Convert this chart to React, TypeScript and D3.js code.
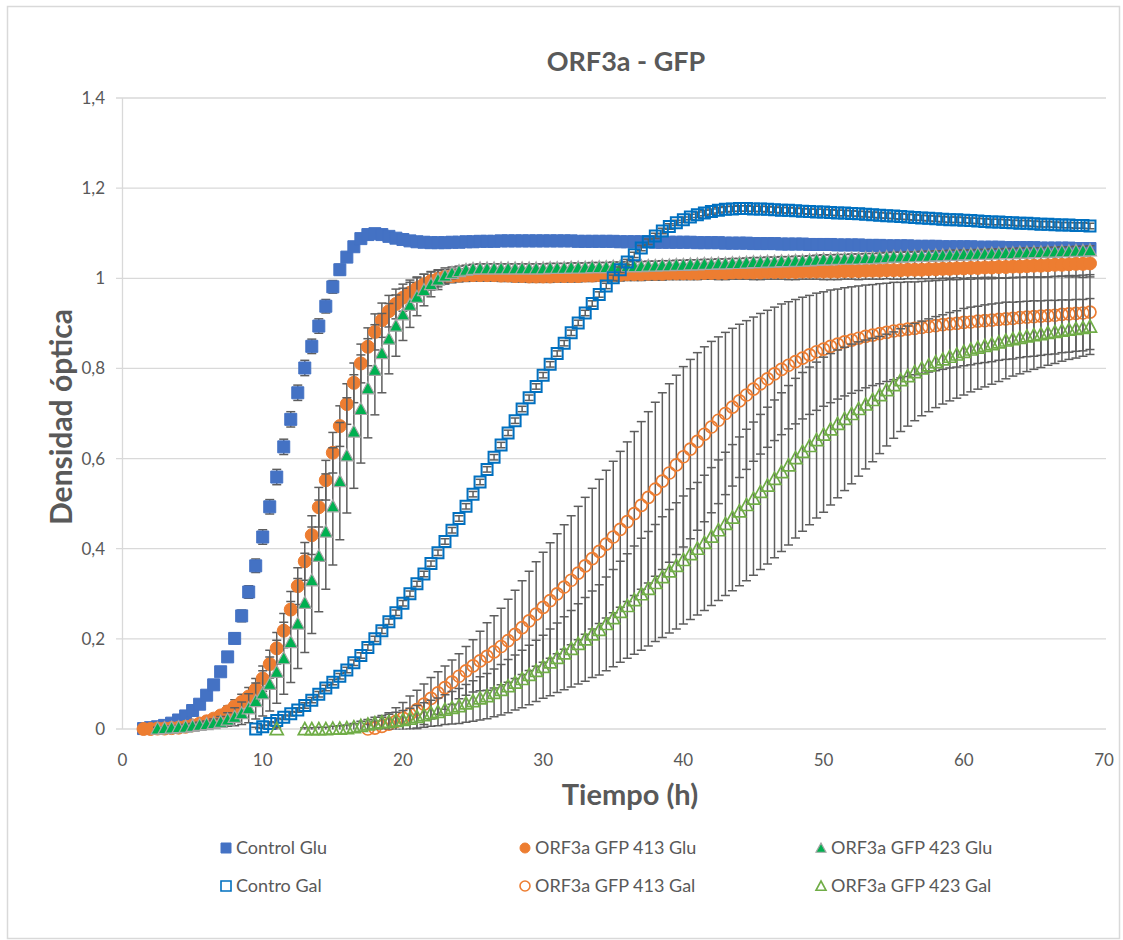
import React from 'react';
import * as d3 from 'd3';

// Sampling times (h)
const TIMES = [
  1.5, 2, 2.5, 3, 3.5, 4, 4.5, 5, 5.5, 6, 6.5, 7, 7.5, 8, 8.5, 9, 9.5,
  10, 10.5, 11, 11.5, 12, 12.5, 13, 13.5, 14, 14.5, 15, 15.5, 16, 16.5, 17, 17.5, 18, 18.5, 19, 19.5,
  20, 20.5, 21, 21.5, 22, 22.5, 23, 23.5, 24, 24.5, 25, 25.5, 26, 26.5, 27, 27.5, 28, 28.5, 29, 29.5,
  30, 30.5, 31, 31.5, 32, 32.5, 33, 33.5, 34, 34.5, 35, 35.5, 36, 36.5, 37, 37.5, 38, 38.5, 39, 39.5,
  40, 40.5, 41, 41.5, 42, 42.5, 43, 43.5, 44, 44.5, 45, 45.5, 46, 46.5, 47, 47.5, 48, 48.5, 49, 49.5,
  50, 50.5, 51, 51.5, 52, 52.5, 53, 53.5, 54, 54.5, 55, 55.5, 56, 56.5, 57, 57.5, 58, 58.5, 59, 59.5,
  60, 60.5, 61, 61.5, 62, 62.5, 63, 63.5, 64, 64.5, 65, 65.5, 66, 66.5, 67, 67.5, 68, 68.5, 69,
];

const N = null;

const CONTROL_GLU = [
  0.001, 0.003, 0.005, 0.008, 0.013, 0.020, 0.029, 0.041, 0.055, 0.075, 0.098, 0.127, 0.160, 0.201, 0.251, 0.304, 0.362,
  0.426, 0.493, 0.559, 0.626, 0.687, 0.746, 0.801, 0.849, 0.894, 0.938, 0.981, 1.019, 1.047, 1.070, 1.088, 1.097, 1.099, 1.097, 1.093, 1.089,
  1.086, 1.083, 1.081, 1.080, 1.079, 1.079, 1.079, 1.080, 1.080, 1.081, 1.081, 1.082, 1.082, 1.082, 1.083, 1.083, 1.083, 1.083, 1.083, 1.083,
  1.083, 1.083, 1.083, 1.083, 1.083, 1.082, 1.082, 1.082, 1.082, 1.082, 1.082, 1.081, 1.081, 1.081, 1.081, 1.081, 1.080, 1.080, 1.080, 1.080,
  1.080, 1.080, 1.079, 1.079, 1.079, 1.079, 1.078, 1.078, 1.078, 1.078, 1.077, 1.077, 1.077, 1.077, 1.076, 1.076, 1.076, 1.076, 1.075, 1.075,
  1.075, 1.075, 1.074, 1.074, 1.074, 1.074, 1.073, 1.073, 1.073, 1.072, 1.072, 1.072, 1.072, 1.071, 1.071, 1.071, 1.071, 1.070, 1.070, 1.070,
  1.070, 1.070, 1.069, 1.069, 1.069, 1.069, 1.068, 1.068, 1.068, 1.068, 1.068, 1.067, 1.067, 1.067, 1.067, 1.067, 1.066, 1.066, 1.066,
];
const CONTROL_GLU_ERR = [
  0.002, 0.002, 0.003, 0.003, 0.004, 0.004, 0.005, 0.006, 0.007, 0.008, 0.009, 0.010, 0.011, 0.012, 0.013, 0.014, 0.015,
  0.016, 0.016, 0.017, 0.017, 0.017, 0.017, 0.017, 0.016, 0.016, 0.015, 0.014, 0.012, 0.010, 0.009, 0.008, 0.007, 0.006, 0.006, 0.006, 0.005,
  0.005, 0.005, 0.005, 0.005, 0.005, 0.005, 0.005, 0.005, 0.005, 0.005, 0.005, 0.005, 0.005, 0.005, 0.005, 0.005, 0.005, 0.005, 0.005, 0.005,
  0.005, 0.005, 0.005, 0.005, 0.005, 0.005, 0.005, 0.005, 0.005, 0.005, 0.005, 0.005, 0.005, 0.005, 0.005, 0.005, 0.005, 0.005, 0.005, 0.005,
  0.005, 0.005, 0.005, 0.005, 0.005, 0.005, 0.005, 0.005, 0.005, 0.005, 0.005, 0.005, 0.005, 0.005, 0.005, 0.005, 0.005, 0.005, 0.005, 0.005,
  0.005, 0.005, 0.005, 0.005, 0.005, 0.005, 0.005, 0.005, 0.005, 0.005, 0.005, 0.005, 0.005, 0.005, 0.005, 0.005, 0.005, 0.005, 0.005, 0.005,
  0.005, 0.005, 0.005, 0.005, 0.005, 0.005, 0.005, 0.005, 0.005, 0.005, 0.005, 0.005, 0.005, 0.005, 0.005, 0.005, 0.005, 0.005, 0.005,
];

const ORF413_GLU = [
  0.000, 0.000, 0.001, 0.001, 0.002, 0.003, 0.005, 0.008, 0.012, 0.017, 0.023, 0.030, 0.039, 0.050, 0.060, 0.072, 0.088,
  0.112, 0.144, 0.179, 0.218, 0.265, 0.317, 0.372, 0.430, 0.492, 0.552, 0.613, 0.672, 0.721, 0.768, 0.811, 0.848, 0.881, 0.907, 0.927, 0.943,
  0.957, 0.968, 0.978, 0.987, 0.994, 0.999, 1.003, 1.005, 1.006, 1.007, 1.007, 1.007, 1.007, 1.007, 1.006, 1.006, 1.005, 1.005, 1.004, 1.004,
  1.004, 1.004, 1.005, 1.005, 1.005, 1.005, 1.006, 1.006, 1.007, 1.007, 1.008, 1.008, 1.009, 1.009, 1.009, 1.010, 1.010, 1.010, 1.011, 1.011,
  1.011, 1.011, 1.011, 1.012, 1.012, 1.012, 1.012, 1.013, 1.013, 1.013, 1.013, 1.013, 1.014, 1.014, 1.014, 1.014, 1.014, 1.015, 1.015, 1.015,
  1.015, 1.015, 1.015, 1.016, 1.016, 1.016, 1.017, 1.017, 1.017, 1.018, 1.018, 1.018, 1.019, 1.019, 1.019, 1.020, 1.020, 1.021, 1.021, 1.022,
  1.022, 1.023, 1.023, 1.024, 1.024, 1.025, 1.025, 1.026, 1.026, 1.027, 1.028, 1.028, 1.029, 1.030, 1.030, 1.031, 1.032, 1.032, 1.033,
];
const ORF413_GLU_ERR = [
  0.003, 0.003, 0.003, 0.003, 0.003, 0.003, 0.004, 0.004, 0.005, 0.006, 0.008, 0.010, 0.012, 0.015, 0.017, 0.020, 0.024,
  0.028, 0.031, 0.035, 0.038, 0.040, 0.041, 0.042, 0.043, 0.044, 0.044, 0.045, 0.045, 0.045, 0.044, 0.043, 0.042, 0.040, 0.038, 0.035, 0.033,
  0.030, 0.028, 0.025, 0.022, 0.020, 0.018, 0.016, 0.015, 0.014, 0.014, 0.013, 0.013, 0.013, 0.013, 0.013, 0.013, 0.013, 0.013, 0.013, 0.013,
  0.013, 0.013, 0.013, 0.013, 0.013, 0.013, 0.013, 0.013, 0.013, 0.013, 0.014, 0.014, 0.014, 0.014, 0.014, 0.014, 0.014, 0.014, 0.014, 0.014,
  0.014, 0.014, 0.014, 0.014, 0.014, 0.015, 0.015, 0.015, 0.015, 0.015, 0.016, 0.016, 0.016, 0.016, 0.016, 0.017, 0.017, 0.017, 0.017, 0.017,
  0.018, 0.018, 0.018, 0.018, 0.018, 0.019, 0.019, 0.019, 0.019, 0.019, 0.020, 0.020, 0.020, 0.020, 0.020, 0.021, 0.021, 0.021, 0.021, 0.021,
  0.022, 0.022, 0.022, 0.022, 0.022, 0.024, 0.024, 0.024, 0.024, 0.024, 0.026, 0.026, 0.026, 0.026, 0.026, 0.028, 0.029, 0.030, 0.030,
];

const ORF423_GLU = [
  N, N, 0.001, 0.002, 0.003, 0.004, 0.005, 0.007, 0.009, 0.011, 0.013, 0.016, 0.021, 0.027, 0.035, 0.046, 0.062,
  0.079, 0.100, 0.127, 0.157, 0.193, 0.234, 0.280, 0.330, 0.384, 0.438, 0.494, 0.550, 0.607, 0.660, 0.710, 0.756, 0.797, 0.834, 0.866, 0.895,
  0.920, 0.941, 0.959, 0.974, 0.987, 0.997, 1.006, 1.012, 1.016, 1.019, 1.021, 1.022, 1.022, 1.022, 1.022, 1.022, 1.022, 1.022, 1.022, 1.022,
  1.022, 1.023, 1.023, 1.023, 1.024, 1.024, 1.024, 1.025, 1.025, 1.025, 1.026, 1.026, 1.027, 1.027, 1.027, 1.028, 1.028, 1.029, 1.029, 1.030,
  1.030, 1.031, 1.031, 1.032, 1.032, 1.033, 1.033, 1.034, 1.034, 1.035, 1.036, 1.036, 1.037, 1.037, 1.038, 1.038, 1.039, 1.039, 1.040, 1.041,
  1.042, 1.042, 1.043, 1.043, 1.044, 1.044, 1.045, 1.045, 1.046, 1.047, 1.048, 1.048, 1.049, 1.049, 1.050, 1.050, 1.051, 1.051, 1.052, 1.052,
  1.053, 1.053, 1.054, 1.054, 1.055, 1.055, 1.056, 1.056, 1.057, 1.057, 1.058, 1.058, 1.059, 1.059, 1.060, 1.060, 1.061, 1.061, 1.062,
];
const ORF423_GLU_ERR = [
  N, N, 0.003, 0.003, 0.004, 0.004, 0.005, 0.005, 0.006, 0.007, 0.009, 0.012, 0.015, 0.020, 0.025, 0.032, 0.040,
  0.050, 0.060, 0.070, 0.080, 0.090, 0.100, 0.110, 0.118, 0.124, 0.128, 0.130, 0.130, 0.128, 0.126, 0.120, 0.110, 0.100, 0.088, 0.078, 0.068,
  0.058, 0.050, 0.042, 0.035, 0.028, 0.022, 0.017, 0.013, 0.011, 0.010, 0.010, 0.010, 0.010, 0.010, 0.010, 0.010, 0.010, 0.010, 0.010, 0.010,
  0.010, 0.010, 0.010, 0.010, 0.010, 0.010, 0.010, 0.010, 0.010, 0.010, 0.010, 0.010, 0.010, 0.010, 0.010, 0.010, 0.010, 0.010, 0.010, 0.010,
  0.010, 0.010, 0.010, 0.010, 0.010, 0.010, 0.010, 0.010, 0.010, 0.010, 0.010, 0.010, 0.010, 0.010, 0.010, 0.010, 0.010, 0.010, 0.010, 0.010,
  0.010, 0.010, 0.010, 0.010, 0.010, 0.010, 0.010, 0.010, 0.010, 0.010, 0.010, 0.010, 0.010, 0.010, 0.010, 0.010, 0.010, 0.010, 0.010, 0.010,
  0.010, 0.010, 0.010, 0.010, 0.010, 0.010, 0.010, 0.010, 0.010, 0.010, 0.010, 0.010, 0.010, 0.010, 0.010, 0.010, 0.010, 0.010, 0.010,
];

const CONTROL_GAL = [
  N, N, N, N, N, N, N, N, N, N, N, N, N, N, N, N, 0.000,
  0.005, 0.012, 0.019, 0.026, 0.034, 0.042, 0.052, 0.064, 0.077, 0.091, 0.104, 0.117, 0.131, 0.147, 0.163, 0.181, 0.200, 0.218, 0.238, 0.258,
  0.279, 0.300, 0.322, 0.344, 0.367, 0.391, 0.416, 0.441, 0.467, 0.494, 0.521, 0.548, 0.576, 0.603, 0.630, 0.657, 0.684, 0.710, 0.735, 0.760,
  0.785, 0.809, 0.833, 0.856, 0.879, 0.901, 0.923, 0.944, 0.964, 0.983, 1.001, 1.019, 1.036, 1.052, 1.067, 1.081, 1.094, 1.105, 1.115, 1.123,
  1.130, 1.136, 1.141, 1.145, 1.148, 1.151, 1.153, 1.154, 1.155, 1.155, 1.154, 1.154, 1.153, 1.152, 1.151, 1.151, 1.150, 1.149, 1.148, 1.147,
  1.147, 1.146, 1.145, 1.145, 1.144, 1.143, 1.142, 1.141, 1.140, 1.139, 1.138, 1.137, 1.136, 1.135, 1.134, 1.133, 1.132, 1.131, 1.130, 1.130,
  1.129, 1.128, 1.127, 1.126, 1.125, 1.125, 1.124, 1.123, 1.122, 1.122, 1.121, 1.120, 1.120, 1.119, 1.118, 1.118, 1.117, 1.117, 1.116,
];
const CONTROL_GAL_ERR = [
  N, N, N, N, N, N, N, N, N, N, N, N, N, N, N, N, 0.004,
  0.004, 0.004, 0.005, 0.005, 0.005, 0.005, 0.006, 0.006, 0.006, 0.006, 0.006, 0.006, 0.006, 0.006, 0.006, 0.006, 0.006, 0.006, 0.006, 0.006,
  0.006, 0.006, 0.006, 0.006, 0.006, 0.006, 0.006, 0.006, 0.006, 0.006, 0.006, 0.006, 0.006, 0.006, 0.006, 0.006, 0.006, 0.006, 0.006, 0.006,
  0.006, 0.006, 0.006, 0.006, 0.006, 0.006, 0.006, 0.006, 0.006, 0.006, 0.006, 0.006, 0.006, 0.006, 0.006, 0.006, 0.006, 0.006, 0.006, 0.006,
  0.006, 0.006, 0.006, 0.006, 0.006, 0.006, 0.006, 0.006, 0.006, 0.006, 0.006, 0.006, 0.006, 0.006, 0.006, 0.006, 0.006, 0.006, 0.006, 0.006,
  0.006, 0.006, 0.006, 0.006, 0.006, 0.006, 0.006, 0.006, 0.006, 0.006, 0.006, 0.006, 0.006, 0.006, 0.006, 0.006, 0.006, 0.006, 0.006, 0.006,
  0.006, 0.006, 0.006, 0.006, 0.006, 0.006, 0.006, 0.006, 0.006, 0.006, 0.006, 0.006, 0.006, 0.006, 0.006, 0.006, 0.006, 0.006, 0.006,
];

const ORF413_GAL = [
  N, N, N, N, N, N, N, N, N, N, N, N, N, N, N, N, N,
  N, N, N, N, N, N, N, N, N, N, N, N, N, N, N, 0.000, 0.002, 0.006, 0.011, 0.017,
  0.024, 0.033, 0.043, 0.055, 0.068, 0.080, 0.092, 0.104, 0.117, 0.129, 0.140, 0.151, 0.161, 0.171, 0.183, 0.196, 0.210, 0.225, 0.240, 0.255,
  0.270, 0.285, 0.300, 0.315, 0.330, 0.346, 0.362, 0.378, 0.394, 0.410, 0.426, 0.443, 0.460, 0.478, 0.496, 0.514, 0.532, 0.550, 0.568, 0.586,
  0.604, 0.621, 0.638, 0.654, 0.670, 0.685, 0.700, 0.714, 0.728, 0.741, 0.754, 0.766, 0.777, 0.788, 0.798, 0.807, 0.815, 0.823, 0.830, 0.837,
  0.843, 0.849, 0.854, 0.859, 0.863, 0.867, 0.871, 0.874, 0.877, 0.880, 0.883, 0.885, 0.887, 0.889, 0.891, 0.893, 0.895, 0.897, 0.899, 0.900,
  0.902, 0.903, 0.905, 0.906, 0.907, 0.909, 0.910, 0.911, 0.913, 0.914, 0.915, 0.916, 0.917, 0.918, 0.920, 0.921, 0.922, 0.923, 0.925,
];
const ORF413_GAL_ERR = [
  N, N, N, N, N, N, N, N, N, N, N, N, N, N, N, N, N,
  N, N, N, N, N, N, N, N, N, N, N, N, N, N, N, 0.010, 0.015, 0.020, 0.025, 0.030,
  0.035, 0.040, 0.043, 0.045, 0.046, 0.047, 0.048, 0.049, 0.050, 0.054, 0.058, 0.066, 0.075, 0.080, 0.085, 0.092, 0.098, 0.104, 0.110, 0.116,
  0.122, 0.128, 0.133, 0.138, 0.143, 0.148, 0.152, 0.156, 0.160, 0.164, 0.168, 0.173, 0.177, 0.182, 0.186, 0.190, 0.193, 0.196, 0.198, 0.199,
  0.200, 0.199, 0.197, 0.194, 0.190, 0.185, 0.180, 0.175, 0.170, 0.165, 0.160, 0.156, 0.152, 0.148, 0.145, 0.141, 0.138, 0.135, 0.132, 0.130,
  0.127, 0.125, 0.122, 0.120, 0.118, 0.116, 0.114, 0.112, 0.111, 0.109, 0.108, 0.106, 0.105, 0.103, 0.102, 0.101, 0.100, 0.099, 0.098, 0.097,
  0.096, 0.095, 0.094, 0.093, 0.092, 0.091, 0.090, 0.090, 0.089, 0.088, 0.088, 0.087, 0.086, 0.086, 0.085, 0.085, 0.084, 0.084, 0.083,
];

const ORF423_GAL = [
  N, N, N, N, N, N, N, N, N, N, N, N, N, N, N, N, N,
  N, N, 0.000, N, N, N, 0.000, 0.000, 0.000, 0.000, 0.001, 0.001, 0.002, 0.004, 0.007, 0.010, 0.013, 0.015, 0.016, 0.018,
  0.020, 0.023, 0.027, 0.031, 0.035, 0.038, 0.043, 0.047, 0.051, 0.057, 0.062, 0.068, 0.073, 0.080, 0.087, 0.095, 0.103, 0.111, 0.120, 0.129,
  0.138, 0.148, 0.158, 0.168, 0.178, 0.189, 0.199, 0.210, 0.220, 0.233, 0.246, 0.260, 0.273, 0.286, 0.299, 0.311, 0.324, 0.337, 0.350, 0.362,
  0.375, 0.388, 0.400, 0.413, 0.427, 0.441, 0.455, 0.469, 0.483, 0.497, 0.511, 0.526, 0.540, 0.555, 0.570, 0.585, 0.601, 0.615, 0.628, 0.641,
  0.653, 0.665, 0.677, 0.688, 0.699, 0.710, 0.720, 0.730, 0.741, 0.752, 0.763, 0.774, 0.783, 0.792, 0.800, 0.807, 0.814, 0.820, 0.826, 0.831,
  0.837, 0.842, 0.846, 0.850, 0.854, 0.858, 0.862, 0.865, 0.868, 0.871, 0.874, 0.876, 0.879, 0.881, 0.884, 0.886, 0.888, 0.890, 0.893,
];
const ORF423_GAL_ERR = [
  N, N, N, N, N, N, N, N, N, N, N, N, N, N, N, N, N,
  N, N, 0.003, N, N, N, 0.003, 0.003, 0.004, 0.004, 0.005, 0.006, 0.007, 0.008, 0.010, 0.011, 0.013, 0.015, 0.017, 0.019,
  0.021, 0.023, 0.025, 0.027, 0.029, 0.031, 0.033, 0.036, 0.039, 0.042, 0.045, 0.048, 0.050, 0.053, 0.056, 0.059, 0.061, 0.064, 0.066, 0.068,
  0.070, 0.074, 0.077, 0.081, 0.085, 0.089, 0.093, 0.096, 0.100, 0.104, 0.108, 0.112, 0.116, 0.120, 0.124, 0.127, 0.130, 0.134, 0.137, 0.140,
  0.142, 0.145, 0.147, 0.150, 0.153, 0.156, 0.159, 0.162, 0.165, 0.168, 0.170, 0.172, 0.174, 0.175, 0.176, 0.177, 0.177, 0.176, 0.175, 0.173,
  0.172, 0.168, 0.164, 0.159, 0.155, 0.149, 0.143, 0.137, 0.130, 0.124, 0.118, 0.114, 0.111, 0.108, 0.105, 0.103, 0.101, 0.099, 0.098, 0.097,
  0.096, 0.094, 0.092, 0.091, 0.089, 0.087, 0.085, 0.082, 0.080, 0.078, 0.076, 0.074, 0.072, 0.070, 0.068, 0.066, 0.065, 0.063, 0.062,
];

const SERIES_NAMES = [
  'Control Glu', 'ORF3a GFP 413 Glu', 'ORF3a GFP 423 Glu',
  'Contro Gal', 'ORF3a GFP 413 Gal', 'ORF3a GFP 423 Gal',
];

const X_TICKS = [0, 10, 20, 30, 40, 50, 60, 70];
const Y_TICKS = [0, 0.2, 0.4, 0.6, 0.8, 1, 1.2, 1.4];
const Y_TICK_LABELS = ['0', '0,2', '0,4', '0,6', '0,8', '1', '1,2', '1,4'];

const TITLE = 'ORF3a - GFP';
const X_TITLE = 'Tiempo (h)';
const Y_TITLE = 'Densidad óptica';

type Shape = 'square' | 'circle' | 'triangle';
interface Style { shape: Shape; fill: string; stroke: string; sw: number; size: number; }

const STYLES: Style[] = [
  { shape: 'square', fill: '#4472C4', stroke: '#4472C4', sw: 1, size: 12 },
  { shape: 'circle', fill: '#ED7D31', stroke: '#ED7D31', sw: 1, size: 13 },
  { shape: 'triangle', fill: '#00B050', stroke: '#A5A5A5', sw: 1.2, size: 13 },
  { shape: 'square', fill: 'none', stroke: '#0070C0', sw: 2, size: 11 },
  { shape: 'circle', fill: 'none', stroke: '#ED7D31', sw: 1.7, size: 12 },
  { shape: 'triangle', fill: 'none', stroke: '#70AD47', sw: 1.7, size: 13 },
];

function markerPath(shape: Shape, s: number): string {
  const h = s / 2;
  if (shape === 'square') return `M${-h},${-h}H${h}V${h}H${-h}Z`;
  if (shape === 'circle') return d3.symbol(d3.symbolCircle, Math.PI * h * h)() as string;
  return `M0,${-h}L${h},${h * 0.85}L${-h},${h * 0.85}Z`;
}

const FONT = 'Lato, "Open Sans", sans-serif';
const TEXT = '#595959';

export default function App() {
  const W = 1123, H = 940;
  const x = d3.scaleLinear().domain([0, 70]).range([122.5, 1104]);
  const y = d3.scaleLinear().domain([0, 1.4]).range([729, 98]);
  const plotRight = 1106;

  const seriesData = [
    [CONTROL_GLU, CONTROL_GLU_ERR],
    [ORF413_GLU, ORF413_GLU_ERR],
    [ORF423_GLU, ORF423_GLU_ERR],
    [CONTROL_GAL, CONTROL_GAL_ERR],
    [ORF413_GAL, ORF413_GAL_ERR],
    [ORF423_GAL, ORF423_GAL_ERR],
  ];

  const legendCols = [226, 525, 821];
  const legendRows = [848, 886];
  const legendOrder = [0, 1, 2, 3, 4, 5];

  return (
    <svg width={W} height={H} style={{ position: 'absolute', left: 0, top: 0, background: '#fff' }}
      fontFamily={FONT}>
      <rect x={7.5} y={6.5} width={1112} height={932} fill="#fff" stroke="#D9D9D9" strokeWidth={1.5} />
      <defs>
        <clipPath id="plotclip">
          <rect x={115} y={90} width={1000} height={639.5} />
        </clipPath>
      </defs>
      {Y_TICKS.map((t) => (
        <line key={'g' + t} x1={116} x2={plotRight} y1={y(t)} y2={y(t)} stroke="#D9D9D9" strokeWidth={1.3} />
      ))}
      <line x1={x(0)} x2={x(0)} y1={y(1.4)} y2={y(0)} stroke="#D9D9D9" strokeWidth={1.3} />
      {Y_TICKS.map((t, i) => (
        <text key={'yl' + t} x={105} y={y(t)} dy="0.35em" textAnchor="end" fontSize={17} fill={TEXT}>
          {Y_TICK_LABELS[i]}
        </text>
      ))}
      {X_TICKS.map((t) => (
        <text key={'xl' + t} x={x(t)} y={760} dy="0.35em" textAnchor="middle" fontSize={17} fill={TEXT}>
          {String(t)}
        </text>
      ))}
      <text x={626} y={62} dy="0.35em" textAnchor="middle" fontSize={27} fontWeight="bold" fill={TEXT}>{TITLE}</text>
      <text x={630} y={795} dy="0.35em" textAnchor="middle" fontSize={29} fontWeight="bold" fill={TEXT}>{X_TITLE}</text>
      <text transform={`translate(61,417) rotate(-90)`} dy="0.35em" textAnchor="middle" fontSize={30} fontWeight="bold" fill={TEXT}>{Y_TITLE}</text>

      {seriesData.map(([vals, errs], si) => {
        const st = STYLES[si];
        const path = markerPath(st.shape, st.size);
        return (
          <g key={'s' + si}>
            <g clipPath="url(#plotclip)" stroke="#5E5E5E" strokeWidth={1.5}>
              {TIMES.map((t, i) => {
                const v = vals[i] as number | null;
                const e = errs[i] as number | null;
                if (v == null || e == null) return null;
                const cx = x(t);
                const y1 = y(v + e), y2 = y(v - e);
                return (
                  <g key={i}>
                    <line x1={cx} x2={cx} y1={y1} y2={y2} />
                    <line x1={cx - 4.5} x2={cx + 4.5} y1={y1} y2={y1} />
                    <line x1={cx - 4.5} x2={cx + 4.5} y1={y2} y2={y2} />
                  </g>
                );
              })}
            </g>
            <g>
              {TIMES.map((t, i) => {
                const v = vals[i] as number | null;
                if (v == null) return null;
                return (
                  <path key={i} d={path} transform={`translate(${x(t)},${y(v)})`}
                    fill={st.fill} stroke={st.stroke} strokeWidth={st.sw} />
                );
              })}
            </g>
          </g>
        );
      })}

      {legendOrder.map((si, k) => {
        const st = STYLES[si];
        const cx = legendCols[k % 3];
        const cy = legendRows[Math.floor(k / 3)];
        return (
          <g key={'lg' + si}>
            <path d={markerPath(st.shape, 10)} transform={`translate(${cx},${cy})`}
              fill={st.fill} stroke={st.stroke} strokeWidth={st.fill === 'none' ? 1.6 : st.sw} />
            <text x={cx + 10} y={cy} dy="0.35em" fontSize={18} fill={TEXT}>{SERIES_NAMES[si]}</text>
          </g>
        );
      })}
    </svg>
  );
}
